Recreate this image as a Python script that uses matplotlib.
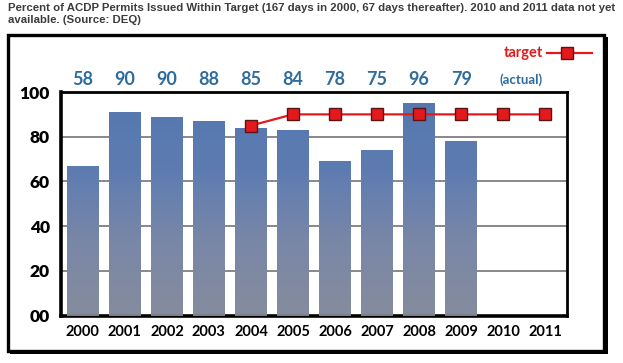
import matplotlib.pyplot as plt
import numpy as np
from matplotlib.colors import LinearSegmentedColormap
from matplotlib.patches import Rectangle
from matplotlib.lines import Line2D

# Data
years = ['2000', '2001', '2002', '2003', '2004', '2005', '2006', '2007',
         '2008', '2009', '2010', '2011']
bar_values = [67, 91, 89, 87, 84, 83, 69, 74, 95, 78]          # bars 2000-2009
actual_labels = ['58', '90', '90', '88', '85', '84', '78', '75', '96', '79']
target_years = ['2004', '2005', '2006', '2007', '2008', '2009', '2010', '2011']
target_values = [85, 90, 90, 90, 90, 90, 90, 90]
y_ticks = [0, 20, 40, 60, 80, 100]
y_tick_labels = ['00', '20', '40', '60', '80', '100']

title = ('Percent of ACDP Permits Issued Within Target (167 days in 2000, 67 days thereafter). '
         '2010 and 2011 data not yet\navailable. (Source: DEQ)')

blue_txt = '#2e6c9e'
red = '#e3191c'
font = 'Lato'

fig = plt.figure(figsize=(6.23, 3.63), dpi=100)
fig.patch.set_facecolor('white')

# title above the framed chart
fig.text(8 / 623, 1 - 3 / 363, title, ha='left', va='top', fontsize=8.2,
         fontweight='bold', color='#3c3c3c', family='Liberation Sans', linespacing=1.25)

# outer frame with a little shadow
fig.patches.append(Rectangle((10 / 623, 9 / 363), 598 / 623, 317 / 363, transform=fig.transFigure,
                             facecolor='black', edgecolor='none', zorder=0))
fig.patches.append(Rectangle((8 / 623, 12 / 363), 596 / 623, 316 / 363, transform=fig.transFigure,
                             facecolor='white', edgecolor='black', linewidth=2.4, zorder=1))

ax = fig.add_axes([61 / 623, 47.3 / 363, 506 / 623, 223.7 / 363])
ax.set_facecolor('none')
ax.set_zorder(2)

x = np.arange(len(years))
bar_x = x[:len(bar_values)]
bars = ax.bar(bar_x, bar_values, width=0.76, color='#5a7ab0', edgecolor='none', zorder=2)

# vertical gradient inside each bar (blue top, grey bottom)
cmap = LinearSegmentedColormap.from_list('bar', ['#8b8e9b', '#7d89a7', '#5d7cb2', '#5477ae'])
grad = np.linspace(0, 1, 256).reshape(-1, 1)
for b in bars:
    x0, w, h = b.get_x(), b.get_width(), b.get_height()
    im = ax.imshow(grad, extent=[x0, x0 + w, 0, 100], origin='lower', cmap=cmap,
                   aspect='auto', alpha=0.9, zorder=3)
    im.set_clip_path(b)

# target line
tx = [years.index(t) for t in target_years]
ax.plot(tx, target_values, color=red, linewidth=1.6, marker='s', markersize=8.5,
        markerfacecolor=red, markeredgecolor='#5a1414', markeredgewidth=1.0, zorder=5)

ax.set_xlim(-0.52, len(years) - 0.48)
ax.set_ylim(0, 100)
ax.set_yticks(y_ticks)
ax.set_yticklabels(y_tick_labels)
ax.set_xticks(x)
ax.set_xticklabels(years)
ax.tick_params(length=0)
ax.tick_params(axis='y', pad=8)
ax.tick_params(axis='x', pad=7)
for lbl in ax.get_xticklabels():
    lbl.set_fontsize(10.5)
    lbl.set_fontweight('bold')
    lbl.set_family(font)
for lbl in ax.get_yticklabels():
    lbl.set_fontsize(12.5)
    lbl.set_fontweight('heavy')
    lbl.set_family(font)

ax.yaxis.grid(True, color='#7f7f7f', linewidth=1.3)
ax.set_axisbelow(True)
for name, sp in ax.spines.items():
    sp.set_color('black')
    sp.set_linewidth(2.6 if name in ('left', 'bottom') else 2.0)

# "actual" values above the plot
for xi, lab in zip(bar_x, actual_labels):
    ax.text(xi, 105.5, lab, ha='center', va='center', fontsize=13, fontweight='bold',
            color=blue_txt, family=font, clip_on=False)
ax.text(10.42, 105.5, '(actual)', ha='center', va='center', fontsize=9.5, fontweight='bold',
        color=blue_txt, family=font, clip_on=False)

# legend for the target line
fig.text(543 / 623, 1 - 53 / 363, 'target', ha='right', va='center', fontsize=10.5,
         fontweight='bold', color=red, family=font)
fig.lines.append(Line2D([547 / 623, 592 / 623], [1 - 53 / 363] * 2, transform=fig.transFigure,
                        color=red, linewidth=1.6, zorder=5))
fig.lines.append(Line2D([567 / 623], [1 - 53 / 363], transform=fig.transFigure, marker='s',
                        markersize=8.5, markerfacecolor=red, markeredgecolor='#5a1414',
                        markeredgewidth=1.0, color=red, zorder=6))

fig.savefig('out.png', dpi=100)
